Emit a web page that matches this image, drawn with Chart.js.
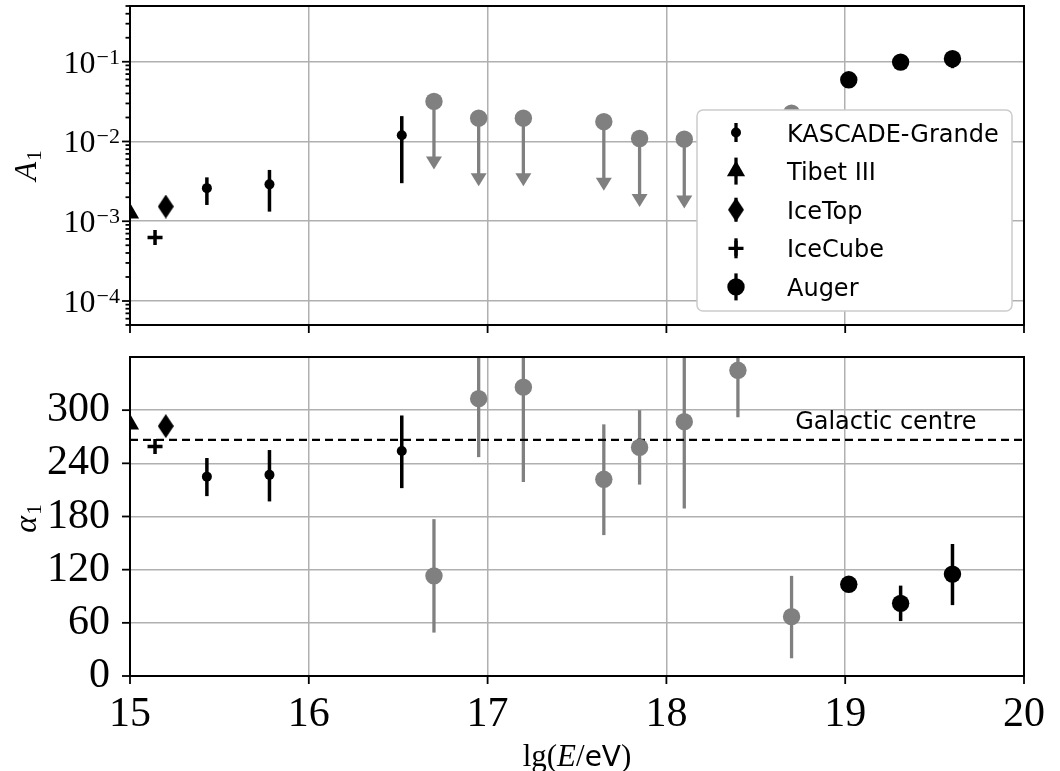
<!DOCTYPE html>
<html>
<head>
<meta charset="utf-8">
<script src="https://cdn.jsdelivr.net/npm/chart.js@4.4.1/dist/chart.umd.min.js"></script>
<style>
  html, body { margin: 0; padding: 0; background: #fff; }
  #wrap { position: relative; width: 1060px; height: 771px; }
  canvas { position: absolute; left: 0; top: 0; }
</style>
</head>
<body>
<div id="wrap">
  <canvas id="amp" width="1060" height="771"></canvas>
  <canvas id="phase" width="1060" height="771"></canvas>
</div>
<script>
// ---- data: x is lg(E/eV) ----
const kgE = [15.43, 15.78, 16.52];
const kgAmp = [0.0026, 0.0029, 0.012];
const kgAmpLo = [0.0016, 0.00132, 0.0030];
const kgAmpHi = [0.00355, 0.0044, 0.0208];
const kgPhase = [225, 227, 254];
const kgPhaseLo = [203, 197, 212];
const kgPhaseHi = [246, 255, 294];

const tibetE = [15.0];
const tibetAmp = [0.00126];
const tibetPhase = [284];

const iceTopE = [15.2];
const iceTopAmp = [0.00153];
const iceTopPhase = [282];

const iceCubeE = [15.14];
const iceCubeAmp = [0.000625];
const iceCubePhase = [259];

// Auger below full efficiency: amplitude upper limits (grey)
const limE = [16.70, 16.95, 17.20, 17.65, 17.85, 18.10, 18.40, 18.70];
const limAmp = [0.0318, 0.0196, 0.0196, 0.0177, 0.0109, 0.0107, 0.015, 0.0226];
const limAmpArrow = [0.0065, 0.0040, 0.0040, 0.0035, 0.0022, 0.0021, 0.0030, 0.0040];
const limPhase = [113, 313, 326, 222, 258, 287, 345, 67];
const limPhaseLo = [49, 247, 219, 159, 216, 189, 292, 20];
const limPhaseHi = [177, 400, 420, 284, 300, 400, 400, 113];

const augerE = [19.02, 19.31, 19.60];
const augerAmp = [0.0594, 0.099, 0.109];
const augerAmpLo = [0.050, 0.090, 0.083];
const augerAmpHi = [0.069, 0.108, 0.130];
const augerPhase = [103.5, 82, 115];
const augerPhaseLo = [96, 62, 80];
const augerPhaseHi = [111, 102, 149];

const galacticCentre = 266.4;
const galacticLabel = "Galactic centre";
const galacticLabelAt = [18.72, 279];

// ---- axes ----
const energyRange = [15, 20];
const ampRange = [5e-5, 0.5];
const ampDecades = [1e-5, 1e-4, 1e-3, 1e-2, 1e-1];
const ampMinorSteps = [2, 3, 4, 5, 6, 7, 8, 9];
const ampLabelExps = [-4, -3, -2, -1];
const phaseRange = [0, 360];
const phaseStep = 60;

const legendLabels = ["KASCADE-Grande", "Tibet III", "IceTop", "IceCube", "Auger"];

const GRID = "#b0b0b0";
const GREY = "#808080";
const SERIF = '"Liberation Serif", "DejaVu Serif", serif';
const SANS = '"DejaVu Sans", sans-serif';

const ampTicks = [];
ampDecades.forEach((d) => {
  [1, ...ampMinorSteps].forEach((s) => {
    const v = s * d;
    if (v >= ampRange[0] * 0.999 && v <= ampRange[1] * 1.001) ampTicks.push(v);
  });
});
const isDecade = (v) => Math.abs(Math.log10(v) - Math.round(Math.log10(v))) < 1e-6;

const pts = (xs, ys) => xs.map((x, i) => ({ x, y: ys[i] }));

// thin diamond marker
const diamond = document.createElement("canvas");
diamond.width = 16;
diamond.height = 24;
{
  const c = diamond.getContext("2d");
  c.fillStyle = "#000";
  c.beginPath();
  c.moveTo(8, 0);
  c.lineTo(16, 12);
  c.lineTo(8, 24);
  c.lineTo(0, 12);
  c.closePath();
  c.fill();
}

const markers = {
  kg: { pointStyle: "circle", pointRadius: 5, backgroundColor: "#000", borderWidth: 0 },
  tibet: { pointStyle: "triangle", pointRadius: 10.5, backgroundColor: "#000", borderWidth: 0 },
  iceTop: { pointStyle: diamond, pointRadius: 12, backgroundColor: "#000", borderWidth: 0 },
  iceCube: { pointStyle: "cross", pointRadius: 7.5, backgroundColor: "#000", borderColor: "#000", borderWidth: 3.5 },
  lim: { pointStyle: "circle", pointRadius: 8.7, backgroundColor: GREY, borderWidth: 0 },
  auger: { pointStyle: "circle", pointRadius: 8.7, backgroundColor: "#000", borderWidth: 0 },
};

function series(label, data, marker, extra) {
  return { type: "scatter", label, data, ...marker, pointHoverRadius: marker.pointRadius, clip: 0, ...extra };
}

// fixed plot box: no extra padding from the scales
function fixWidth(w) {
  return (s) => { s.width = w; s.paddingTop = 0; s.paddingBottom = 0; };
}
function fixHeight(h) {
  return (s) => { s.height = h; s.paddingLeft = 0; s.paddingRight = 0; };
}

// ---- plugins ----
const errorBars = {
  id: "errorBars",
  beforeDatasetsDraw(chart) {
    const { ctx, chartArea: a, scales: { x, y } } = chart;
    ctx.save();
    ctx.beginPath();
    ctx.rect(a.left, a.top, a.right - a.left, a.bottom - a.top);
    ctx.clip();
    chart.data.datasets.forEach((ds) => {
      if (!ds.errLo && !ds.arrowTo) return;
      ctx.strokeStyle = ds.errColor;
      ctx.fillStyle = ds.errColor;
      ctx.lineWidth = ds.errWidth;
      ds.data.forEach((p, i) => {
        const px = x.getPixelForValue(p.x);
        if (ds.errLo) {
          ctx.beginPath();
          ctx.moveTo(px, y.getPixelForValue(ds.errLo[i]));
          ctx.lineTo(px, y.getPixelForValue(ds.errHi[i]));
          ctx.stroke();
        }
        if (ds.arrowTo) {
          const yb = y.getPixelForValue(ds.arrowTo[i]);
          ctx.beginPath();
          ctx.moveTo(px, y.getPixelForValue(p.y));
          ctx.lineTo(px, yb + 1);
          ctx.stroke();
          ctx.beginPath();
          ctx.moveTo(px - 8, yb);
          ctx.lineTo(px + 8, yb);
          ctx.lineTo(px, yb + 13);
          ctx.closePath();
          ctx.fill();
        }
      });
    });
    ctx.restore();
  },
};

const frame = {
  id: "frame",
  afterDatasetsDraw(chart) {
    const { ctx, chartArea: a, scales: { x, y } } = chart;
    ctx.save();
    ctx.strokeStyle = "#000";
    ctx.lineWidth = 1.8;
    x.ticks.forEach((t) => {
      const px = x.getPixelForValue(t.value);
      ctx.beginPath();
      ctx.moveTo(px, a.bottom);
      ctx.lineTo(px, a.bottom + 8);
      ctx.stroke();
    });
    y.ticks.forEach((t) => {
      if (y.type === "linear" && t.value >= y.max) return;
      const py = y.getPixelForValue(t.value);
      const len = t.major === false ? 4.5 : 8;
      ctx.beginPath();
      ctx.moveTo(a.left - len, py);
      ctx.lineTo(a.left, py);
      ctx.stroke();
    });
    ctx.lineWidth = 2;
    ctx.strokeRect(a.left, a.top, a.right - a.left, a.bottom - a.top);
    ctx.restore();
  },
};

function drawYTitle(ctx, cx, cy, main, mainFont, sub) {
  ctx.save();
  ctx.translate(cx, cy);
  ctx.rotate(-Math.PI / 2);
  ctx.fillStyle = "#000";
  ctx.textBaseline = "alphabetic";
  ctx.font = mainFont;
  const w1 = ctx.measureText(main).width;
  ctx.font = "21px " + SERIF;
  const w2 = ctx.measureText(sub).width;
  const x0 = -(w1 + w2) / 2;
  ctx.font = mainFont;
  ctx.fillText(main, x0, 10);
  ctx.font = "21px " + SERIF;
  ctx.fillText(sub, x0 + w1 + 1, 15);
  ctx.restore();
}

function drawGlyph(ctx, marker, x, y, errHalf) {
  ctx.save();
  ctx.strokeStyle = "#000";
  ctx.fillStyle = "#000";
  ctx.lineWidth = 3.3;
  ctx.beginPath();
  ctx.moveTo(x, y - errHalf);
  ctx.lineTo(x, y + errHalf);
  ctx.stroke();
  Chart.helpers.drawPoint(ctx, {
    pointStyle: marker.pointStyle,
    radius: marker.pointRadius,
    rotation: 0,
    borderWidth: marker.borderWidth,
  }, x, y);
  ctx.restore();
}

const ampDecor = {
  id: "ampDecor",
  afterDraw(chart) {
    const { ctx, chartArea: a, scales: { y } } = chart;
    ctx.save();
    ctx.fillStyle = "#000";
    ctx.textBaseline = "alphabetic";
    ampLabelExps.forEach((e) => {
      const py = y.getPixelForValue(Math.pow(10, e));
      const exp = "\u2212" + Math.abs(e);
      ctx.font = "22px " + SERIF;
      const we = ctx.measureText(exp).width;
      ctx.font = "32px " + SERIF;
      const wb = ctx.measureText("10").width;
      const right = a.left - 10;
      ctx.fillText("10", right - we - wb - 1, py + 11);
      ctx.font = "22px " + SERIF;
      ctx.fillText(exp, right - we, py + 2);
    });
    drawYTitle(ctx, 26, 166, "A", "italic 31px " + SERIF, "1");

    // legend
    const bx = a.right - 327, by = a.top + 104, bw = 315, bh = 201;
    ctx.beginPath();
    ctx.roundRect(bx, by, bw, bh, 6);
    ctx.fillStyle = "#fff";
    ctx.fill();
    ctx.strokeStyle = "#cccccc";
    ctx.lineWidth = 1.5;
    ctx.stroke();
    const glyphs = [
      [markers.kg, 9.5], [markers.tibet, 13.5], [markers.iceTop, 12],
      [markers.iceCube, 10], [markers.auger, 13.5],
    ];
    ctx.font = "24px " + SANS;
    legendLabels.forEach((lab, i) => {
      const ly = by + 22.5 + i * 38.6;
      drawGlyph(ctx, glyphs[i][0], bx + 39, ly, glyphs[i][1]);
      ctx.fillStyle = "#000";
      ctx.fillText(lab, bx + 90, ly + 9);
    });
    ctx.restore();
  },
};

const phaseDecor = {
  id: "phaseDecor",
  afterDraw(chart) {
    const { ctx, chartArea: a, scales: { x, y } } = chart;
    ctx.save();
    ctx.fillStyle = "#000";
    ctx.textBaseline = "alphabetic";
    ctx.font = "24px " + SANS;
    ctx.fillText(galacticLabel, x.getPixelForValue(galacticLabelAt[0]), y.getPixelForValue(galacticLabelAt[1]));
    drawYTitle(ctx, 26, 519, "\u03b1", "italic 32px " + SERIF, "1");

    // x title: lg(E/eV)
    const parts = [
      ["lg(", "31px " + SERIF],
      ["E", "italic 31px " + SERIF],
      ["/", "31px " + SERIF],
      ["eV", "28px " + SANS],
      [")", "31px " + SERIF],
    ];
    let total = 0;
    parts.forEach(([t, f]) => { ctx.font = f; total += ctx.measureText(t).width; });
    let cx = (a.left + a.right) / 2 - total / 2;
    parts.forEach(([t, f]) => {
      ctx.font = f;
      ctx.fillText(t, cx, 766);
      cx += ctx.measureText(t).width;
    });
    ctx.restore();
  },
};

const common = {
  responsive: false,
  animation: false,
  devicePixelRatio: 1,
  events: [],
  plugins: { legend: { display: false }, tooltip: { enabled: false } },
};

// ---- amplitude panel ----
new Chart(document.getElementById("amp"), {
  type: "scatter",
  data: {
    datasets: [
      series("KASCADE-Grande", pts(kgE, kgAmp), markers.kg, { errLo: kgAmpLo, errHi: kgAmpHi, errColor: "#000", errWidth: 3.5 }),
      series("Tibet III", pts(tibetE, tibetAmp), markers.tibet),
      series("IceTop", pts(iceTopE, iceTopAmp), markers.iceTop),
      series("IceCube", pts(iceCubeE, iceCubeAmp), markers.iceCube),
      series("Auger limits", pts(limE, limAmp), markers.lim, { arrowTo: limAmpArrow, errColor: GREY, errWidth: 3.3 }),
      series("Auger", pts(augerE, augerAmp), markers.auger, { errLo: augerAmpLo, errHi: augerAmpHi, errColor: "#000", errWidth: 3.5 }),
    ],
  },
  options: {
    ...common,
    layout: { autoPadding: false, padding: { top: 6, right: 36, left: 0, bottom: 0 } },
    scales: {
      x: {
        type: "linear",
        min: energyRange[0],
        max: energyRange[1],
        afterFit: fixHeight(771 - 325),
        ticks: { display: false, stepSize: 1 },
        grid: { color: GRID, lineWidth: 1.5, drawTicks: false },
        border: { display: false },
      },
      y: {
        type: "logarithmic",
        min: ampRange[0],
        max: ampRange[1],
        afterFit: fixWidth(130),
        afterBuildTicks: (s) => { s.ticks = ampTicks.map((v) => ({ value: v, major: isDecade(v) })); },
        ticks: { display: false },
        grid: {
          color: (c) => (c.tick && c.tick.major ? GRID : "rgba(0,0,0,0)"),
          lineWidth: 1.5,
          drawTicks: false,
        },
        border: { display: false },
      },
    },
  },
  plugins: [errorBars, frame, ampDecor],
});

// ---- phase panel ----
new Chart(document.getElementById("phase"), {
  type: "scatter",
  data: {
    datasets: [
      series("KASCADE-Grande", pts(kgE, kgPhase), markers.kg, { errLo: kgPhaseLo, errHi: kgPhaseHi, errColor: "#000", errWidth: 3.5 }),
      series("Tibet III", pts(tibetE, tibetPhase), markers.tibet),
      series("IceTop", pts(iceTopE, iceTopPhase), markers.iceTop),
      series("IceCube", pts(iceCubeE, iceCubePhase), markers.iceCube),
      series("Auger low energy", pts(limE, limPhase), markers.lim, { errLo: limPhaseLo, errHi: limPhaseHi, errColor: GREY, errWidth: 3.3 }),
      series("Auger", pts(augerE, augerPhase), markers.auger, { errLo: augerPhaseLo, errHi: augerPhaseHi, errColor: "#000", errWidth: 3.5 }),
      {
        type: "line",
        label: galacticLabel,
        data: energyRange.map((x) => ({ x, y: galacticCentre })),
        borderColor: "#000",
        borderWidth: 2.2,
        borderDash: [8, 5],
        pointRadius: 0,
        clip: 0,
      },
    ],
  },
  options: {
    ...common,
    layout: { autoPadding: false, padding: { top: 357, right: 36, left: 0, bottom: 0 } },
    scales: {
      x: {
        type: "linear",
        min: energyRange[0],
        max: energyRange[1],
        afterFit: fixHeight(771 - 676),
        ticks: { stepSize: 1, color: "#000", font: { family: SERIF, size: 42 }, padding: 14, maxRotation: 0, autoSkip: false },
        grid: { color: GRID, lineWidth: 1.5, drawTicks: false },
        border: { display: false },
      },
      y: {
        type: "linear",
        min: phaseRange[0],
        max: phaseRange[1],
        afterFit: fixWidth(130),
        ticks: {
          stepSize: phaseStep,
          autoSkip: false,
          color: "#000",
          font: { family: SERIF, size: 42 },
          padding: 20,
          callback: (v) => (v >= phaseRange[1] ? "" : v),
        },
        grid: { color: GRID, lineWidth: 1.5, drawTicks: false },
        border: { display: false },
      },
    },
  },
  plugins: [errorBars, frame, phaseDecor],
});
</script>
</body>
</html>
